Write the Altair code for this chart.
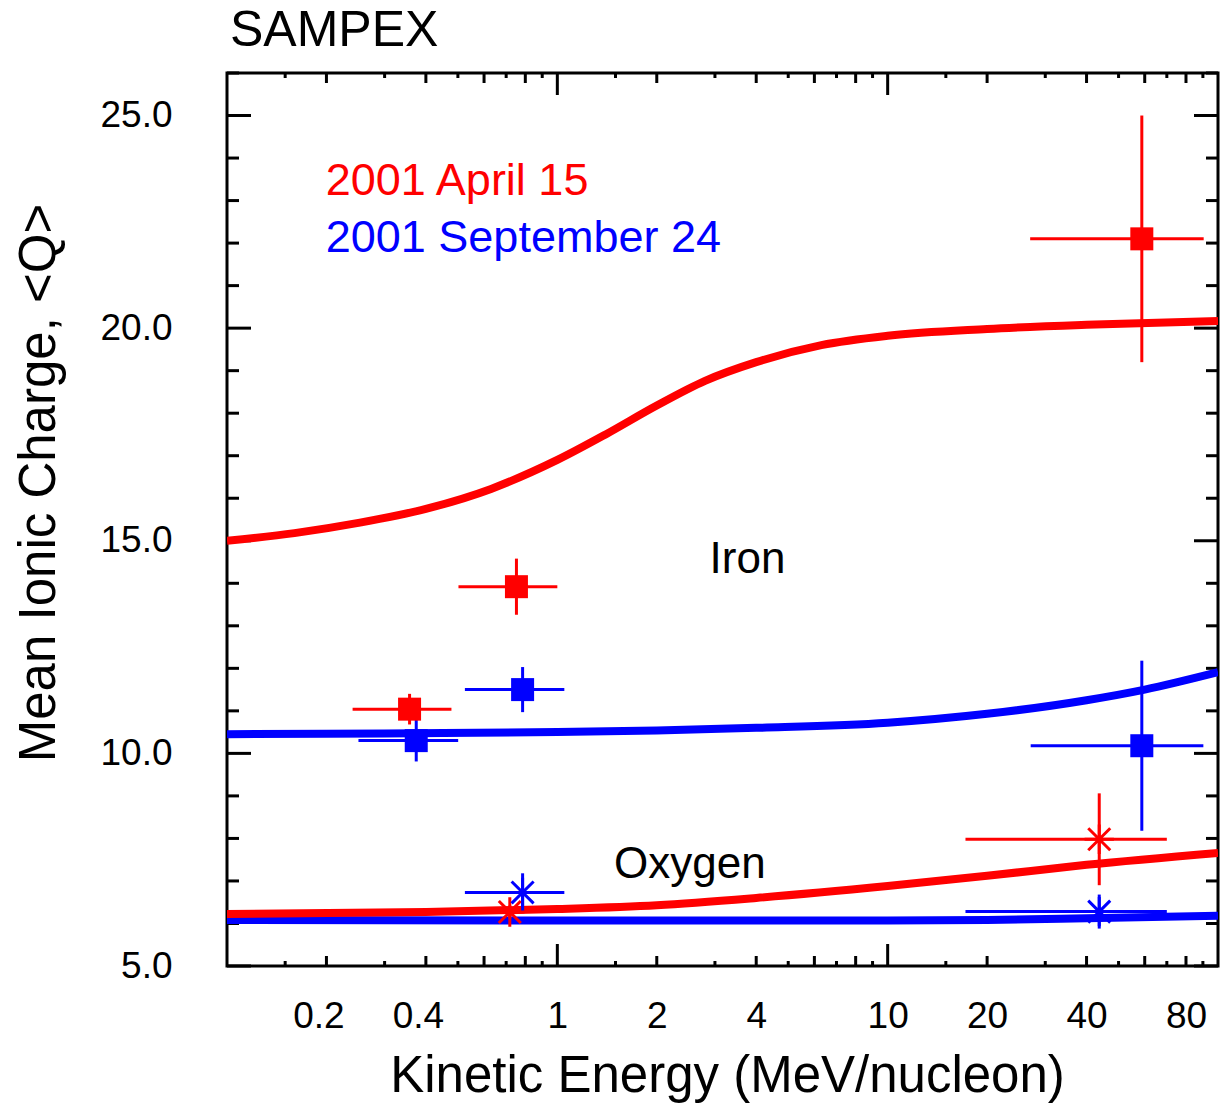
import altair as alt
import pandas as pd

# ---------------- data ----------------
# Model curves (energy in MeV/nucleon, mean charge)
fe_red_curve_E = [0.1, 0.16, 0.25, 0.4, 0.63, 1, 1.4, 2, 2.8, 4, 6.3, 10, 20, 40, 100]
fe_red_curve_Q = [15.0, 15.18, 15.42, 15.75, 16.22, 16.9, 17.5, 18.18, 18.76, 19.2, 19.6, 19.82, 19.98, 20.08, 20.17]
fe_blue_curve_E = [0.1, 0.3, 1, 2, 4, 10, 20, 40, 60, 100]
fe_blue_curve_Q = [10.45, 10.47, 10.5, 10.54, 10.6, 10.72, 10.93, 11.25, 11.5, 11.91]
o_red_curve_E = [0.1, 0.4, 1, 2, 4, 10, 20, 40, 100]
o_red_curve_Q = [6.22, 6.27, 6.34, 6.43, 6.6, 6.88, 7.12, 7.38, 7.66]
o_blue_curve_E = [0.1, 1, 10, 20, 40, 100]
o_blue_curve_Q = [6.08, 6.07, 6.07, 6.08, 6.12, 6.18]

# Measurements
fe_red_E = [0.357, 0.752, 58.8]
fe_red_Q = [11.04, 13.92, 22.10]
fe_red_Elo = [0.240, 0.502, 27.0]
fe_red_Ehi = [0.478, 1.0, 90.5]
fe_red_dQ = [0.36, 0.66, 2.9]

fe_blue_E = [0.374, 0.785, 58.8]
fe_blue_Q = [10.30, 11.50, 10.18]
fe_blue_Elo = [0.250, 0.525, 27.1]
fe_blue_Ehi = [0.501, 1.05, 90.3]
fe_blue_dQ = [0.49, 0.53, 2.0]

o_red_E = [0.718, 43.7]
o_red_Q = [6.27, 7.98]
o_red_Elo = [0.70, 17.2]
o_red_Ehi = [0.74, 70.0]
o_red_dQ = [0.15, 1.08]

o_blue_E = [0.785, 43.7]
o_blue_Q = [6.73, 6.28]
o_blue_Elo = [0.525, 17.2]
o_blue_Ehi = [1.05, 70.0]
o_blue_dQ = [0.45, 0.40]

# Tick values
x_label_values = [0.2, 0.4, 1, 2, 4, 10, 20, 40, 80]
x_major_ticks = [1, 10]
x_mid_ticks = [0.2, 0.4, 0.6, 0.8, 2, 4, 6, 8, 20, 40, 60, 80]
x_small_ticks = [0.15, 0.3, 0.5, 0.7, 0.9, 1.5, 3, 5, 7, 9, 15, 30, 50, 70, 90]
y_major_ticks = [5, 10, 15, 20, 25]
y_minor_ticks = [6, 7, 8, 9, 11, 12, 13, 14, 16, 17, 18, 19, 21, 22, 23, 24, 26]

legend_text = ["2001 April 15", "2001 September 24"]
legend_color = ["#ff0000", "#0000ff"]
legend_E = [0.199, 0.199]
legend_Q = [23.14, 21.78]

annot_text = ["Iron", "Oxygen"]
annot_E = [3.764, 2.52]
annot_Q = [14.25, 7.08]

RED = "#ff0000"
BLUE = "#0000ff"
FONT = "Liberation Sans"

W, H = 991, 893

xscale = alt.Scale(type="log", domain=[0.1, 100], nice=False)
yscale = alt.Scale(domain=[5, 26], nice=False, zero=False)

xaxis = alt.Axis(
    values=x_label_values, format="~g", grid=False, ticks=False, domain=False,
    labelFont=FONT, labelFontSize=37, labelColor="black", labelPadding=61,
    labelBaseline="alphabetic", labelFlush=False, labelOverlap=False,
    labelOffset={"condition": {"test": "datum.value < 1", "value": -8}, "value": 0},
    title="Kinetic Energy (MeV/nucleon)", titleFont=FONT, titleFontSize=51,
    titleFontWeight="normal", titleColor="black", titleX=500, titleY=125,
    titleAlign="center", titleBaseline="alphabetic",
)
yaxis = alt.Axis(
    values=y_major_ticks, format=".1f", grid=False, ticks=False, domain=False,
    labelFont=FONT, labelFontSize=37, labelColor="black", labelPadding=55,
    labelBaseline="middle", labelAlign="right", labelFlush=False, labelOverlap=False,
    title="Mean Ionic Charge, <Q>", titleFont=FONT, titleFontSize=51,
    titleFontWeight="normal", titleColor="black", titleAngle=270,
    titleX=-173, titleY=409.5, titleAlign="center", titleBaseline="alphabetic",
)


def X(field):
    return alt.X(field, type="quantitative", scale=xscale, axis=xaxis)


def Y(field):
    return alt.Y(field, type="quantitative", scale=yscale, axis=yaxis)


def curve(E, Q, color):
    df = pd.DataFrame({"E": E, "Q": Q})
    return alt.Chart(df).mark_line(color=color, strokeWidth=8, interpolate="monotone", clip=True).encode(
        x=X("E"), y=Y("Q")
    )


def errbars(E, Q, Elo, Ehi, dQ, color):
    df = pd.DataFrame({"E": E, "Q": Q, "Elo": Elo, "Ehi": Ehi, "dQ": dQ})
    base = alt.Chart(df).transform_calculate(
        Qlo="datum.Q - datum.dQ", Qhi="datum.Q + datum.dQ"
    )
    h = base.mark_rule(color=color, strokeWidth=3).encode(x=X("Elo"), x2="Ehi:Q", y=Y("Q"))
    v = base.mark_rule(color=color, strokeWidth=3).encode(x=X("E"), y=Y("Qlo:Q"), y2="Qhi:Q")
    return h + v


ASTERISK = "M0,-1L0,1M-1,0L1,0M-0.75,-0.75L0.75,0.75M-0.75,0.75L0.75,-0.75"


def squares(E, Q, color):
    df = pd.DataFrame({"E": E, "Q": Q})
    return alt.Chart(df).mark_point(shape="square", filled=True, size=529, color=color, opacity=1).encode(
        x=X("E"), y=Y("Q")
    )


def asterisks(E, Q, color):
    df = pd.DataFrame({"E": E, "Q": Q})
    return alt.Chart(df).mark_point(shape=ASTERISK, filled=False, size=860, color=color,
                                    strokeWidth=3, opacity=1).encode(x=X("E"), y=Y("Q"))


def xticks(vals, length):
    df = pd.DataFrame({"E": vals})
    b = alt.Chart(df).mark_rule(color="black", strokeWidth=3).encode(
        x=X("E"), y=alt.value(H), y2=alt.value(H - length))
    t = alt.Chart(df).mark_rule(color="black", strokeWidth=3).encode(
        x=X("E"), y=alt.value(0), y2=alt.value(length))
    return b + t


def yticks(vals, length):
    df = pd.DataFrame({"Q": vals})
    l = alt.Chart(df).mark_rule(color="black", strokeWidth=3).encode(
        y=Y("Q"), x=alt.value(0), x2=alt.value(length))
    r = alt.Chart(df).mark_rule(color="black", strokeWidth=3).encode(
        y=Y("Q"), x=alt.value(W), x2=alt.value(W - length))
    return l + r


legend_df = pd.DataFrame({"t": legend_text, "c": legend_color, "E": legend_E, "Q": legend_Q})
legend = alt.Chart(legend_df).mark_text(align="left", baseline="alphabetic", font=FONT, fontSize=45).encode(
    x=X("E"), y=Y("Q"), text="t:N", color=alt.Color("c:N", scale=None)
)

annot_df = pd.DataFrame({"t": annot_text, "E": annot_E, "Q": annot_Q})
annot = alt.Chart(annot_df).mark_text(align="center", baseline="alphabetic", font=FONT, fontSize=44,
                                       color="black").encode(x=X("E"), y=Y("Q"), text="t:N")

title_df = pd.DataFrame({"t": ["SAMPEX"]})
title = alt.Chart(title_df).mark_text(align="left", baseline="alphabetic", font=FONT, fontSize=50,
                                      color="black").encode(text="t:N", x=alt.value(3), y=alt.value(-27))

chart = alt.layer(
    xticks(x_major_ticks, 22),
    xticks(x_mid_ticks, 10),
    xticks(x_small_ticks, 5),
    yticks(y_major_ticks, 24),
    yticks(y_minor_ticks, 12),
    curve(fe_blue_curve_E, fe_blue_curve_Q, BLUE),
    curve(o_blue_curve_E, o_blue_curve_Q, BLUE),
    curve(fe_red_curve_E, fe_red_curve_Q, RED),
    curve(o_red_curve_E, o_red_curve_Q, RED),
    errbars(fe_red_E, fe_red_Q, fe_red_Elo, fe_red_Ehi, fe_red_dQ, RED),
    errbars(fe_blue_E, fe_blue_Q, fe_blue_Elo, fe_blue_Ehi, fe_blue_dQ, BLUE),
    errbars(o_red_E, o_red_Q, o_red_Elo, o_red_Ehi, o_red_dQ, RED),
    errbars(o_blue_E, o_blue_Q, o_blue_Elo, o_blue_Ehi, o_blue_dQ, BLUE),
    squares(fe_red_E, fe_red_Q, RED),
    squares(fe_blue_E, fe_blue_Q, BLUE),
    asterisks(o_red_E, o_red_Q, RED),
    asterisks(o_blue_E, o_blue_Q, BLUE),
    legend,
    annot,
    title,
).properties(
    width=W, height=H,
    autosize=alt.AutoSizeParams(type="none"),
    padding={"left": 227, "top": 73, "right": 2, "bottom": 139},
    background="white",
).configure_view(stroke="black", strokeWidth=3)

chart.save("out.html", embed_options={"renderer": "svg", "actions": False})
